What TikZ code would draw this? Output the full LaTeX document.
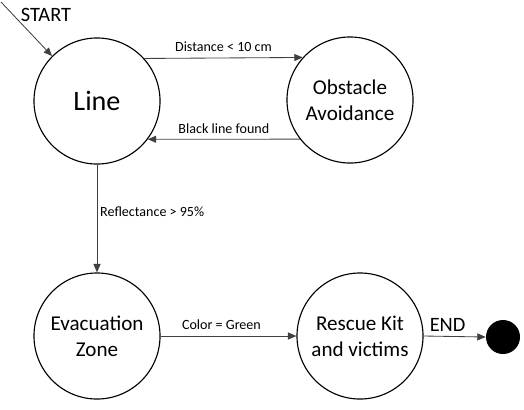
\documentclass[tikz,border=0pt]{standalone}
\usepackage{fontspec}
\setmainfont{Carlito}
\usetikzlibrary{arrows.meta}

\begin{document}
\begin{tikzpicture}[x=0.025cm,y=-0.025cm,
        phase/.style = {circle, draw, line width=0.8pt, minimum size=3.15cm, inner sep=0pt,
                        align=center, font=\fontsize{15}{18.5}\selectfont},
        link/.style  = {-{Triangle[length=6pt,width=5pt]}, draw=black!75, line width=0.6pt},
        tag/.style   = {font=\fontsize{10}{12}\selectfont, inner sep=4pt}]
            \useasboundingbox (0,0) rectangle (524,409);

            \node[phase] (line)   at (97,101)  {\fontsize{20}{24}\selectfont Line};
            \node[phase] (obst)   at (350,100) {Obstacle\\Avoidance};
            \node[phase] (evac)   at (97,336)  {Evacuation\\Zone};
            \node[phase] (rescue) at (360,336) {Rescue Kit\\and victims};
            \node[circle, fill=black, minimum size=0.85cm, inner sep=0pt] (end) at (503,337) {};

            \node[font=\fontsize{14.5}{17}\selectfont] (start) at (46,15) {START};
            \coordinate (s) at (1,2);

            \draw[link] (s) -- (line.135);
            \draw[link] (line.42) -- node[tag, above] {Distance < 10 cm} (obst.138);
            \draw[link] (obst.218) -- node[tag, above] {Black line found} (line.-37);
            \draw[link] (line.south) -- node[tag, right, pos=0.44, inner sep=2pt] {Reflectance > 95\%} (evac.north);
            \draw[link] (evac.east) -- node[tag, above, xshift=-5] {Color = Green} (rescue.west);
            \draw[link] (rescue.east) -- node[above, xshift=-5, font=\fontsize{14.5}{17}\selectfont] {END} (end.west);
        \end{tikzpicture}
\end{document}
